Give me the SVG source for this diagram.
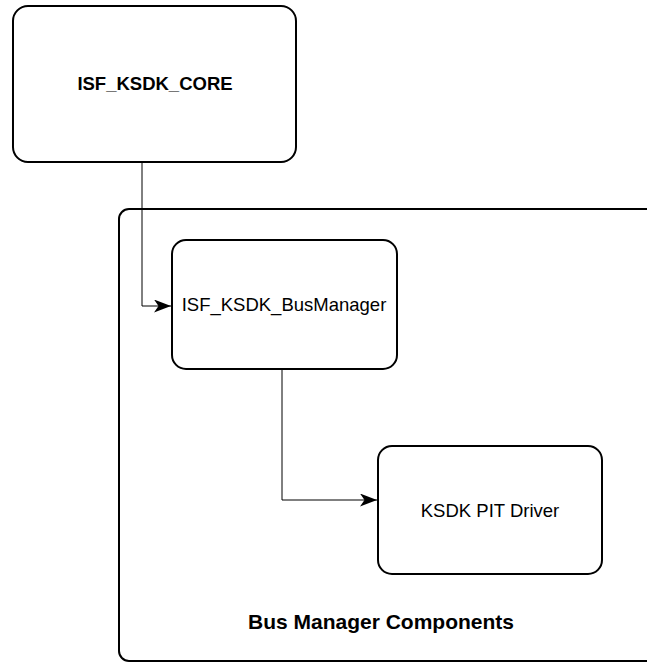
<svg xmlns="http://www.w3.org/2000/svg" width="647" height="664" viewBox="0 0 647 664">
<style>
.box{fill:#fff;stroke:#000;stroke-width:2}
.edge{fill:none;stroke:#000;stroke-width:1}
.lbl{font-family:"Liberation Sans",Arial,sans-serif;font-size:18.5px;fill:#000;text-anchor:middle}
.b{font-weight:bold}
</style>
<defs>
<marker id="arr" markerUnits="userSpaceOnUse" markerWidth="18" markerHeight="13" refX="17" refY="6.5" orient="auto" viewBox="0 0 18 13">
<path d="M0,0 L17,6.5 L0,13 L4.5,6.5 Z" fill="#000"/>
</marker>
</defs>
<rect width="647" height="664" fill="#fff"/>
<g id="container">
<rect class="box" x="119" y="209" width="560" height="452" rx="10"/>
<text class="lbl b" x="381" y="629" style="font-size:21px">Bus Manager Components</text>
</g>
<g id="core">
<rect class="box" x="13" y="6" width="283" height="156" rx="15"/>
<text class="lbl b" x="155" y="90">ISF_KSDK_CORE</text>
</g>
<g id="busmanager">
<rect class="box" x="172" y="240" width="225" height="129" rx="14"/>
<text class="lbl" x="284" y="311">ISF_KSDK_BusManager</text>
</g>
<g id="pit">
<rect class="box" x="378" y="446" width="224" height="128" rx="14"/>
<text class="lbl" x="490" y="517">KSDK PIT Driver</text>
</g>
<g id="connectors">
<path class="edge" d="M142,162 V306 H171" marker-end="url(#arr)"/>
<path class="edge" d="M282,369 V500 H377" marker-end="url(#arr)"/>
</g>
</svg>
